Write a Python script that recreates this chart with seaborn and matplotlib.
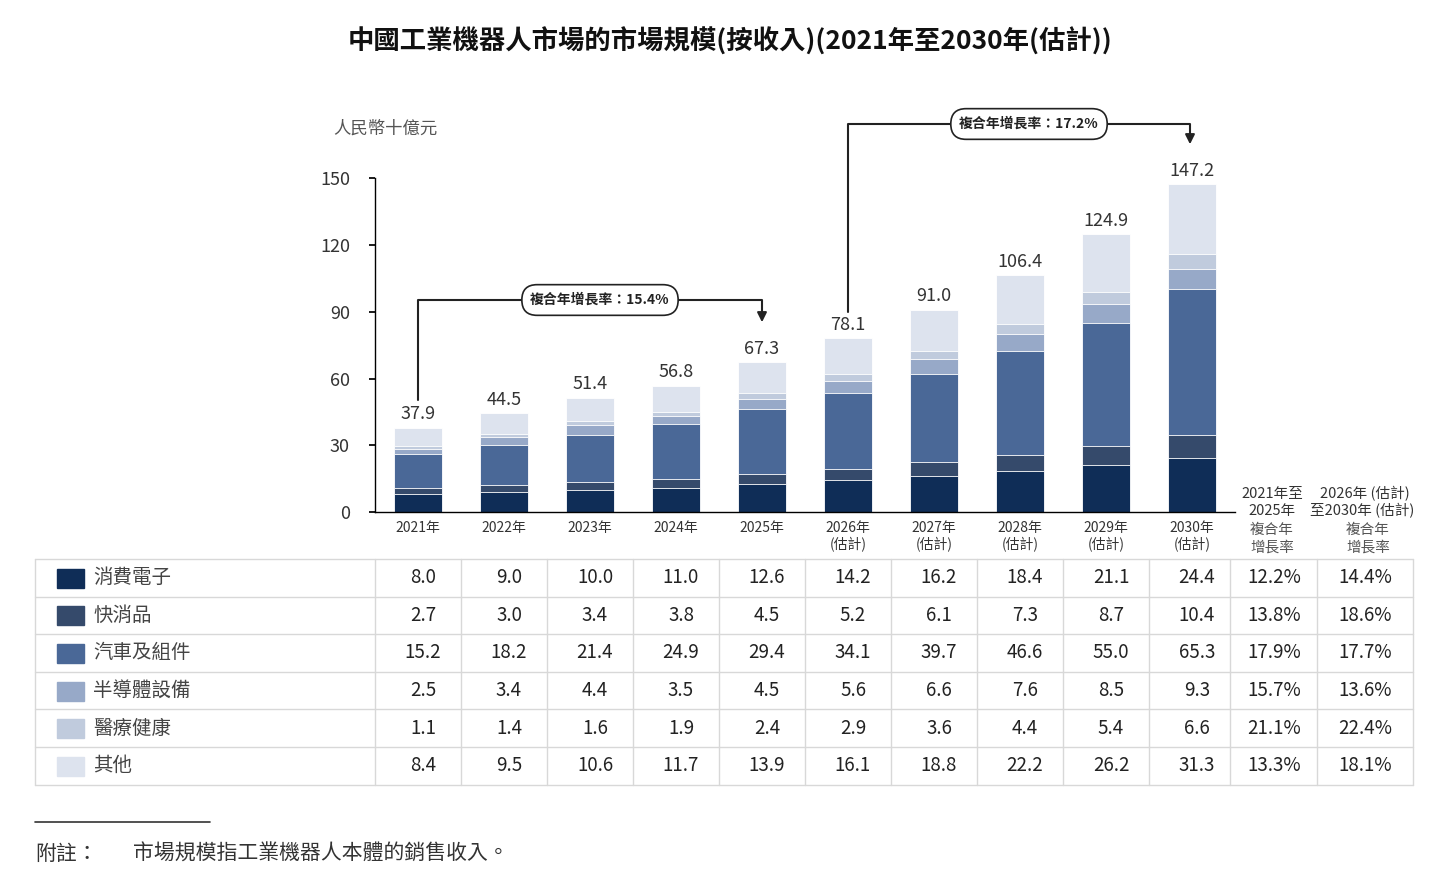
import numpy as np
import pandas as pd
import matplotlib
matplotlib.use("Agg")
import matplotlib.pyplot as plt
import seaborn as sns

years = ["2021年", "2022年", "2023年", "2024年", "2025年", "2026年", "2027年", "2028年", "2029年", "2030年"]
estimated = [False] * 5 + [True] * 5
segments = ["消費電子", "快消品", "汽車及組件", "半導體設備", "醫療健康", "其他"]
values = {
    "消費電子": [8.0, 9.0, 10.0, 11.0, 12.6, 14.2, 16.2, 18.4, 21.1, 24.4],
    "快消品": [2.7, 3.0, 3.4, 3.8, 4.5, 5.2, 6.1, 7.3, 8.7, 10.4],
    "汽車及組件": [15.2, 18.2, 21.4, 24.9, 29.4, 34.1, 39.7, 46.6, 55.0, 65.3],
    "半導體設備": [2.5, 3.4, 4.4, 3.5, 4.5, 5.6, 6.6, 7.6, 8.5, 9.3],
    "醫療健康": [1.1, 1.4, 1.6, 1.9, 2.4, 2.9, 3.6, 4.4, 5.4, 6.6],
    "其他": [8.4, 9.5, 10.6, 11.7, 13.9, 16.1, 18.8, 22.2, 26.2, 31.3],
}
totals = [37.9, 44.5, 51.4, 56.8, 67.3, 78.1, 91.0, 106.4, 124.9, 147.2]
cagr_hist = ["12.2%", "13.8%", "17.9%", "15.7%", "21.1%", "13.3%"]
cagr_fcst = ["14.4%", "18.6%", "17.7%", "13.6%", "22.4%", "18.1%"]
colors = ["#0f2d57", "#354a6b", "#4a6897", "#97a9c8", "#c0cbdd", "#dde3ee"]

sns.set_theme(style="white")
plt.rcParams["font.family"] = ["Noto Sans CJK TC", "DejaVu Sans"]
txt = "#333333"

fig = plt.figure(figsize=(14.4, 8.8), dpi=100)
# overlay in pixel coordinates for table and annotations
ov = fig.add_axes([0, 0, 1, 1])
ov.set_xlim(0, 1440)
ov.set_ylim(880, 0)
ov.axis("off")

ax = fig.add_axes([375 / 1440, 368 / 880, 860 / 1440, 367 / 880])
ax.patch.set_alpha(0)
df = pd.DataFrame(values, index=years)
cum = df.cumsum(axis=1)
for seg, col in reversed(list(zip(segments, colors))):
    sns.barplot(x=years, y=cum[seg].values, color=col, width=0.56, ax=ax,
                saturation=1, edgecolor="white", linewidth=0.6)
ax.set_xlim(-0.5, 9.5)
ax.set_ylim(0, 165)
ax.set_yticks([0, 30, 60, 90, 120, 150])
ax.set_yticklabels(["0", "30", "60", "90", "120", "150"], fontsize=13, color=txt)
ax.set_xticks([])
for s in ["top", "right"]:
    ax.spines[s].set_visible(False)
for s in ["left", "bottom"]:
    ax.spines[s].set_color("black")
    ax.spines[s].set_linewidth(1)
ax.spines["left"].set_bounds(0, 150)
ax.tick_params(axis="y", left=True, length=4, color="black", pad=14)
for i, t in enumerate(totals):
    ax.text(i, t + 2, f"{t:.1f}", ha="center", va="bottom", fontsize=13, color=txt)

# title and unit
ov.text(730, 42, "中國工業機器人市場的市場規模(按收入)(2021年至2030年(估計))", ha="center", va="center",
        fontsize=19, fontweight="bold", color="#111111")
ov.text(333, 129, "人民幣十億元", ha="left", va="center", fontsize=12.5, color="#555555")

# CAGR arrows
def cagr_arrow(x0, y0, ytop, x1, y1, label):
    ov.plot([x0, x0, x1, x1], [y0, ytop, ytop, y1 - 12], color="#222222", lw=1.5)
    ov.annotate("", xy=(x1, y1), xytext=(x1, y1 - 14),
                arrowprops=dict(arrowstyle="-|>", color="#222222", lw=1.5, mutation_scale=14))
    ov.text((x0 + x1) / 2 + 10, ytop, label, ha="center", va="center", fontsize=10, fontweight="bold",
            color="#222222", bbox=dict(boxstyle="round,pad=0.6,rounding_size=1.1", fc="white", ec="#222222", lw=1.2))

cagr_arrow(418, 400, 300, 762, 325, "複合年增長率：15.4%")
cagr_arrow(848, 312, 124, 1190, 147, "複合年增長率：17.2%")

# x labels
for i, (y, e) in enumerate(zip(years, estimated)):
    cx = 418 + 86 * i
    ov.text(cx, 528, y, ha="center", va="center", fontsize=10, color=txt)
    if e:
        ov.text(cx, 545, "(估計)", ha="center", va="center", fontsize=10, color=txt)
ov.text(1272, 494, "2021年至", ha="center", va="center", fontsize=10.5, color=txt)
ov.text(1272, 511, "2025年", ha="center", va="center", fontsize=10.5, color=txt)
ov.text(1272, 530, "複合年", ha="center", va="center", fontsize=10.5, color="#555555")
ov.text(1272, 548, "增長率", ha="center", va="center", fontsize=10.5, color="#555555")
ov.text(1365, 494, "2026年 (估計)", ha="center", va="center", fontsize=10.5, color=txt)
ov.text(1362, 511, "至2030年 (估計)", ha="center", va="center", fontsize=10.5, color=txt)
ov.text(1368, 530, "複合年", ha="center", va="center", fontsize=10.5, color="#555555")
ov.text(1368, 548, "增長率", ha="center", va="center", fontsize=10.5, color="#555555")

# table
row_h = 37.6
top = 559
grid = "#d8d8d8"
for r in range(7):
    ov.plot([35, 1413], [top + r * row_h] * 2, color=grid, lw=1)
col_edges = [35, 375] + [461 + 86 * i for i in range(9)] + [1230, 1317, 1413]
for xe in col_edges:
    ov.plot([xe, xe], [top, top + 6 * row_h], color=grid, lw=1)
for r, (seg, col) in enumerate(zip(segments, colors)):
    cy = top + (r + 0.5) * row_h
    ov.add_patch(plt.Rectangle((57, cy - 9), 27, 19, color=col))
    ov.text(93, cy, seg, ha="left", va="center", fontsize=14, color="#444444")
    for i, v in enumerate(values[seg]):
        ov.text(423 + 86 * i, cy, f"{v:.1f}", ha="center", va="center", fontsize=13.5, color="#222222")
    ov.text(1274, cy, cagr_hist[r], ha="center", va="center", fontsize=13.5, color="#222222")
    ov.text(1365, cy, cagr_fcst[r], ha="center", va="center", fontsize=13.5, color="#222222")

# footnote
ov.plot([35, 210], [822, 822], color="#333333", lw=1.2)
ov.text(35, 854, "附註：", ha="left", va="center", fontsize=15, style="italic", color="#333333")
ov.text(133, 854, "市場規模指工業機器人本體的銷售收入。", ha="left", va="center", fontsize=15, color="#333333")

fig.savefig("out.png", dpi=100)
